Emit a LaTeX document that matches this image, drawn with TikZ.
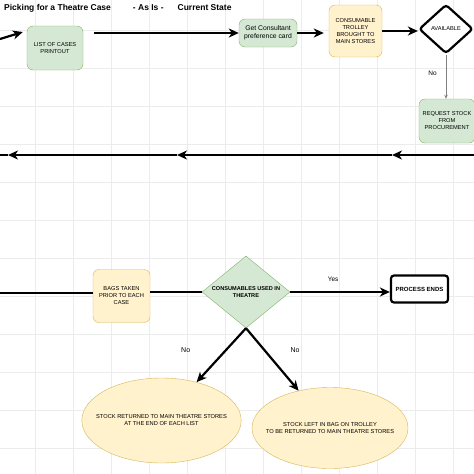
\documentclass[tikz,border=0pt]{standalone}
\usepackage{fontspec}
\setmainfont{Liberation Sans}
\usetikzlibrary{shapes.geometric, arrows.meta, positioning}
\definecolor{stepgreen}{RGB}{213, 232, 212}
\definecolor{edgegreen}{RGB}{130, 179, 102}
\definecolor{stepyellow}{RGB}{255, 242, 204}
\definecolor{edgeyellow}{RGB}{214, 182, 86}
\definecolor{gridgrey}{RGB}{236, 236, 236}
\tikzstyle{task} = [
    rectangle,
    rounded corners=6pt,
    align=center,
    inner sep=1pt,
    draw=edgegreen,
    fill=stepgreen,
    font=\fontsize{5.7}{7}\selectfont
]
\tikzstyle{storetask} = [task, draw=edgeyellow, fill=stepyellow]
\tikzstyle{outcome} = [storetask, ellipse, sharp corners, inner xsep=-9pt]
\tikzstyle{decision} = [
    diamond,
    aspect=1.25,
    inner sep=0pt,
    align=center,
    font=\fontsize{5.7}{7}\selectfont
]
\tikzstyle{arrow} = [
    line width=2.2pt,
    -{Stealth[length=10pt, width=9pt, inset=3pt]},
    color=black
]
\tikzstyle{flowline} = [line width=2.2pt, color=black]
\tikzstyle{answer} = [font=\fontsize{6.5}{7}\selectfont, inner sep=1pt, text=black]

\begin{document}
\begin{tikzpicture}[x=1pt, y=-1pt]
        \useasboundingbox (0,0) rectangle (474,474);
        \clip (0,0) rectangle (474,474);

        % Grid
        \foreach \gx in {35, 73, ..., 453} \draw[gridgrey, line width=0.6pt] (\gx,0) -- (\gx,474);
        \foreach \gy in {30, 68, ..., 448} \draw[gridgrey, line width=0.6pt] (0,\gy) -- (474,\gy);

        % Title
        \node[anchor=west, inner sep=0pt, font=\fontsize{8.5}{10}\selectfont\bfseries] (title) at (4,8)
            {Picking for a Theatre Case\hspace{22pt}- As Is -\hspace{14pt}Current State};

        % Case list
        \node[task, minimum width=56pt, minimum height=44pt] (list) at (55,48) {LIST OF CASES\\PRINTOUT};

        % Preference card
        \node[task, font=\fontsize{6.8}{8}\selectfont, minimum width=58pt, minimum height=28pt] (card) at (268,33) {Get Consultant\\preference card};

        % Trolley
        \node[storetask, minimum width=53pt, minimum height=52pt] (trolley) at (355.5,31) {CONSUMABLE\\TROLLEY\\BROUGHT TO\\MAIN STORES};

        % Available?
        \node[decision, draw=black, fill=white, line width=2.2pt, rounded corners=3pt, minimum width=54pt, minimum height=49pt] (avail) at (446,29) {AVAILABLE};

        % Procurement
        \node[task, minimum width=56pt, minimum height=44pt] (request) at (447,121) {REQUEST STOCK\\FROM\\PROCUREMENT};

        % Bags
        \node[storetask, minimum width=57pt, minimum height=53pt] (bags) at (121.5,296) {BAGS TAKEN\\PRIOR TO EACH\\CASE};

        % Consumables used?
        \node[decision, draw=edgegreen, fill=stepgreen, font=\fontsize{5.6}{7}\selectfont\bfseries, minimum width=88pt, minimum height=72pt] (used) at (246,292) {CONSUMABLES USED IN\\THEATRE};

        % End
        \node[rectangle, rounded corners=3pt, draw=black, fill=white, line width=2.2pt, minimum width=57pt, minimum height=27pt, font=\fontsize{6}{7}\selectfont\bfseries] (ends) at (419.5,289) {PROCESS ENDS};

        % Outcomes
        \node[outcome, minimum width=157pt, minimum height=85pt] (returned) at (161.5,420.5) {STOCK RETURNED TO MAIN THEATRE STORES\\AT THE END OF EACH LIST};
        \node[outcome, minimum width=156pt, minimum height=81pt] (leftinbag) at (330,428) {STOCK LEFT IN BAG ON TROLLEY\\TO BE RETURNED TO MAIN THEATRE STORES};

        % Loose ends
        \coordinate (listin) at (0,39);
        \coordinate (availout) at (480,29);
        \coordinate (back0) at (480,155);
        \coordinate (back1) at (392,155);
        \coordinate (back2) at (177,155);
        \coordinate (back3) at (8,155);
        \coordinate (back4) at (-5,155);
        \coordinate (bagsin) at (-5,293);

        % Arrows
        \draw[arrow] (listin) -- ([shift={(-4,-16)}]list.west);
        \draw[arrow, shorten <=11pt] (list.east |- card.west) -- (card.west);
        \draw[arrow, shorten >=5pt] (card.east) -- (card.east -| trolley.west);
        \draw[arrow] (trolley.east) -- (trolley.east -| avail.west);
        \draw[flowline] (avail.east) -- (availout);
        \draw[gray, line width=0.7pt, -{Stealth[length=4pt, width=3.5pt]}] (avail.south) -- node[answer, pos=0.43, left=8pt]{No} (avail.south |- request.north);
        \draw[arrow] (back0) -- (back1);
        \draw[arrow] (back1) -- (back2);
        \draw[arrow] (back2) -- (back3);
        \draw[flowline] (back3) -- (back4);
        \draw[flowline] (bagsin) -- (bagsin -| bags.west);
        \draw[flowline] (used.west -| bags.east) -- (used.west);
        \draw[arrow] (used.east) -- node[answer, pos=0.43, above=8pt]{Yes} (used.east -| ends.west);
        \draw[arrow] (used.south) -- node[answer, font=\fontsize{7}{8}\selectfont, pos=0.4, left=34pt]{No} (returned);
        \draw[arrow] (used.south) -- node[answer, font=\fontsize{7}{8}\selectfont, pos=0.35, right=24pt]{No} (leftinbag);
    \end{tikzpicture}
\end{document}
